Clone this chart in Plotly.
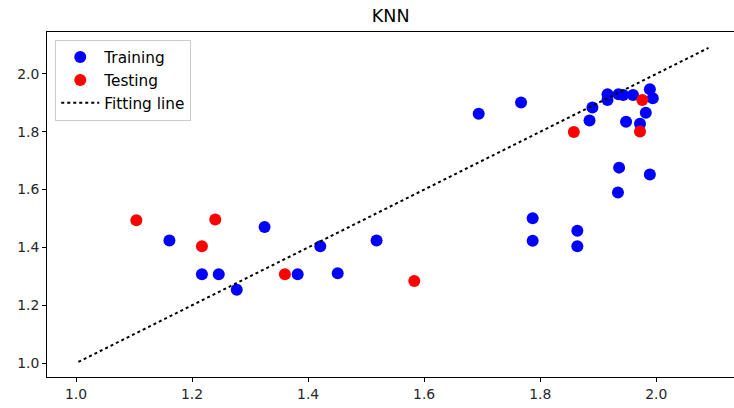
import plotly.graph_objects as go

# Training set (actual, predicted)
train_x = [1.161, 1.217, 1.246, 1.277, 1.325, 1.382, 1.421, 1.451, 1.518,
           1.694, 1.767, 1.787, 1.787, 1.864, 1.864, 1.885, 1.890, 1.916,
           1.916, 1.935, 1.943, 1.960, 1.948, 1.989, 1.994, 1.982, 1.972,
           1.936, 1.989, 1.934]
train_y = [1.424, 1.307, 1.307, 1.254, 1.471, 1.307, 1.404, 1.311, 1.424,
           1.862, 1.901, 1.501, 1.423, 1.458, 1.404, 1.839, 1.884, 1.930,
           1.910, 1.930, 1.927, 1.927, 1.835, 1.947, 1.916, 1.866, 1.828,
           1.676, 1.652, 1.590]

# Testing set
test_x = [1.104, 1.240, 1.217, 1.360, 1.583, 1.858, 1.976, 1.972]
test_y = [1.494, 1.497, 1.404, 1.307, 1.284, 1.799, 1.910, 1.801]

# Fitting line (y = x)
line_x = [1.004, 2.090]
line_y = [1.004, 2.090]

xticks = [1.0, 1.2, 1.4, 1.6, 1.8, 2.0]
yticks = [1.0, 1.2, 1.4, 1.6, 1.8, 2.0]

font = "DejaVu Sans"

fig = go.Figure()
fig.add_trace(go.Scatter(x=train_x, y=train_y, mode="markers", name="Training",
                         marker=dict(color="#0000ff", size=12, line=dict(width=0)),
                         legendgroup="a"))
fig.add_trace(go.Scatter(x=test_x, y=test_y, mode="markers", name="Testing",
                         marker=dict(color="#ff0000", size=12, line=dict(width=0)),
                         legendgroup="b"))
fig.add_trace(go.Scatter(x=line_x, y=line_y, mode="lines", name="Fitting line",
                         line=dict(color="black", width=2, dash="dot"),
                         legendgroup="c"))

fig.update_layout(
    width=734, height=408,
    margin=dict(l=47.3, r=0, t=31.7, b=31.3),
    plot_bgcolor="white", paper_bgcolor="white",
    font=dict(family=font, size=13.9, color="#262626"),
    title=dict(text="KNN", x=(47.3 + 734) / 2 / 734, xanchor="center",
               y=1 - 16 / 408, yanchor="middle", yref="container",
               font=dict(size=17.5, color="black")),
    showlegend=True,
    legend=dict(x=0.012, y=0.978, xanchor="left", yanchor="top",
                bgcolor="rgba(255,255,255,0.8)", bordercolor="#cccccc",
                borderwidth=1, tracegroupgap=0, itemwidth=38,
                font=dict(size=15.3, color="black")),
    xaxis=dict(range=[0.950, 2.134], tickvals=xticks, tickformat=".1f",
               showgrid=False, zeroline=False, showline=True, linecolor="black",
               linewidth=1, mirror=True, ticks="outside", ticklen=4,
               tickcolor="black", tickfont=dict(color="#262626")),
    yaxis=dict(range=[0.952, 2.145], tickvals=yticks, tickformat=".1f",
               showgrid=False, zeroline=False, showline=True, linecolor="black",
               linewidth=1, ticks="outside", ticklen=4,
               tickcolor="black", tickfont=dict(color="#262626")),
)

fig.write_html("out.html")
